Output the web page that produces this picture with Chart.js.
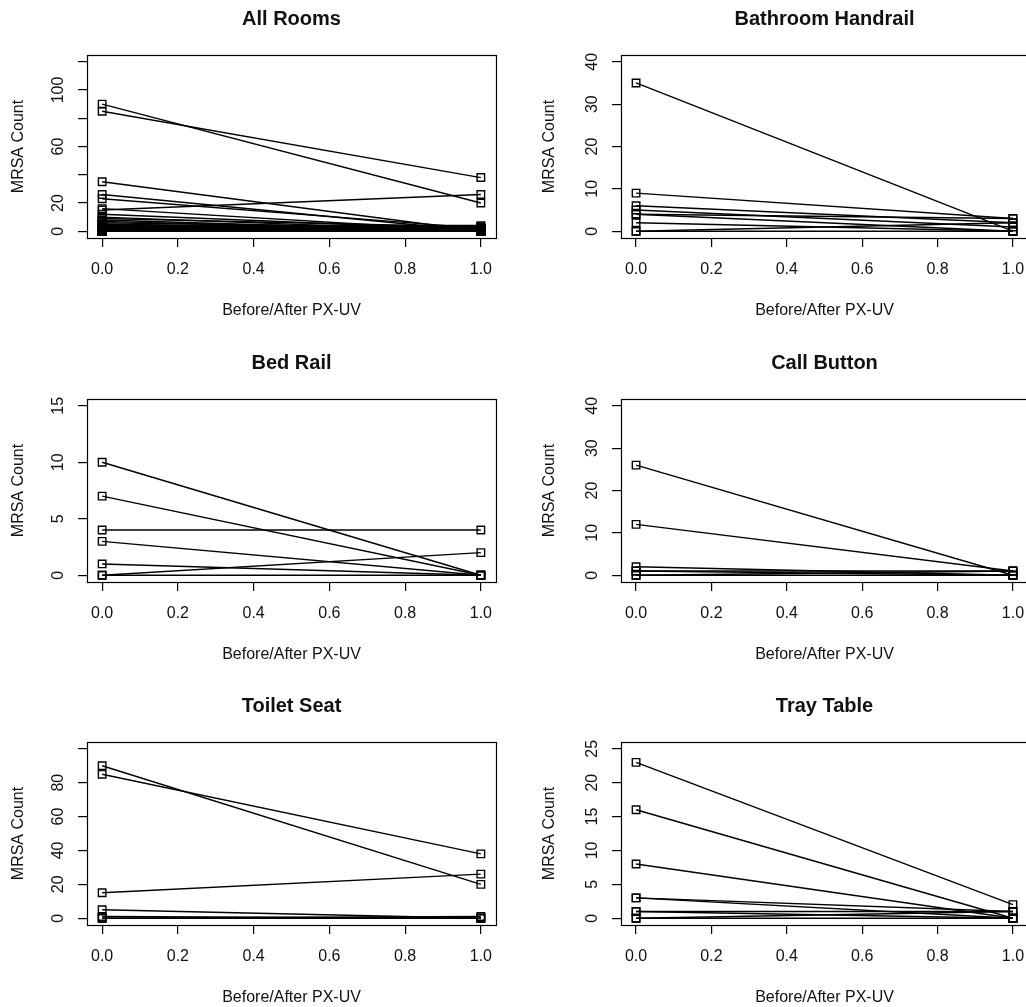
<!DOCTYPE html>
<html>
<head>
<meta charset="utf-8">
<title>MRSA Count Before/After PX-UV</title>
<script src="https://cdn.jsdelivr.net/npm/chart.js@4.4.0/dist/chart.umd.min.js"></script>
<style>
    html, body { margin: 0; padding: 0; background: #fff; }
    body { width: 1026px; height: 1007px; position: relative; overflow: hidden; }
    .panel { position: absolute; }
</style>
</head>
<body>
<div class="panel" style="left:0px;top:0px"><canvas id="c-all" width="513" height="330"></canvas></div>
<div class="panel" style="left:513px;top:0px"><canvas id="c-bath" width="530" height="330"></canvas></div>
<div class="panel" style="left:0px;top:344px"><canvas id="c-bed" width="513" height="330"></canvas></div>
<div class="panel" style="left:513px;top:344px"><canvas id="c-call" width="530" height="330"></canvas></div>
<div class="panel" style="left:0px;top:687px"><canvas id="c-toilet" width="513" height="330"></canvas></div>
<div class="panel" style="left:513px;top:687px"><canvas id="c-tray" width="530" height="330"></canvas></div>

<script>
// x positions: 0 = before PX-UV, 1 = after PX-UV
const xPositions = [0, 1];
const xTicks = [0, 0.2, 0.4, 0.6, 0.8, 1.0];
const xTickLabels = ['0.0', '0.2', '0.4', '0.6', '0.8', '1.0'];

// MRSA counts per room, before and after (same index = same room)
const bathBefore = [35, 9, 6, 5, 4, 4, 2, 0, 0];
const bathAfter = [0, 3, 2, 1, 0, 3, 0, 2, 0];

const bedBefore = [10, 7, 4, 3, 1, 0, 0];
const bedAfter = [0, 0, 4, 0, 0, 2, 0];

const callBefore = [26, 12, 2, 1, 1, 0, 0];
const callAfter = [0, 1, 0, 1, 0, 1, 0];

const toiletBefore = [90, 85, 15, 5, 1, 0, 0];
const toiletAfter = [20, 38, 26, 0, 0, 1, 0];

const trayBefore = [23, 16, 8, 3, 3, 1, 1, 0, 0];
const trayAfter = [2, 0, 0, 1, 0, 1, 0, 0, 1];

// y axis ticks and the labels R actually printed
const allTicks = [0, 20, 40, 60, 80, 100, 120];
const allLabels = [0, 20, 60, 100];
const bathTicks = [0, 10, 20, 30, 40];
const bedTicks = [0, 5, 10, 15];
const callTicks = [0, 10, 20, 30, 40];
const toiletTicks = [0, 20, 40, 60, 80, 100];
const toiletLabels = [0, 20, 40, 60, 80];
const trayTicks = [0, 5, 10, 15, 20, 25];

const FONT = 'Liberation Sans, Arial, Helvetica, sans-serif';
const INK = '#111';

const mrsaPlots = {
    init() {
        // All Rooms pools every surface
        const allBefore = [].concat(bathBefore, bedBefore, callBefore, toiletBefore, trayBefore);
        const allAfter = [].concat(bathAfter, bedAfter, callAfter, toiletAfter, trayAfter);

        this.draw('c-all', 'All Rooms', allBefore, allAfter, 120, allTicks, allLabels, 'left');
        this.draw('c-bath', 'Bathroom Handrail', bathBefore, bathAfter, 40, bathTicks, bathTicks, 'right');
        this.draw('c-bed', 'Bed Rail', bedBefore, bedAfter, 15, bedTicks, bedTicks, 'left');
        this.draw('c-call', 'Call Button', callBefore, callAfter, 40, callTicks, callTicks, 'right');
        this.draw('c-toilet', 'Toilet Seat', toiletBefore, toiletAfter, 100, toiletTicks, toiletLabels, 'left');
        this.draw('c-tray', 'Tray Table', trayBefore, trayAfter, 25, trayTicks, trayTicks, 'right');
    },

    draw(canvasId, title, before, after, yMax, yTicks, yLabels, column) {
        const isLeft = column === 'left';

        const datasets = before.map((b, i) => ({
            data: [{ x: xPositions[0], y: b }, { x: xPositions[1], y: after[i] }],
            borderColor: '#000',
            borderWidth: 1.4,
            tension: 0,
            pointStyle: 'rect',
            pointRadius: 5.3,
            pointBorderWidth: 1.4,
            pointBorderColor: '#000',
            pointBackgroundColor: 'rgba(0,0,0,0)'
        }));

        // Box round the plot area, main title over the box, rotated y tick labels (R style)
        const rFrame = {
            id: 'rFrame',
            afterDraw(chart) {
                const { ctx, chartArea } = chart;
                const yScale = chart.scales.y;
                ctx.save();
                ctx.strokeStyle = '#000';
                ctx.lineWidth = 1.2;
                ctx.strokeRect(Math.round(chartArea.left) + 0.5, Math.round(chartArea.top) + 0.5,
                    Math.round(chartArea.right - chartArea.left), Math.round(chartArea.bottom - chartArea.top));

                ctx.fillStyle = INK;
                ctx.textAlign = 'center';
                ctx.textBaseline = 'middle';
                ctx.font = 'bold 20px ' + FONT;
                ctx.fillText(title, (chartArea.left + chartArea.right) / 2, 19);

                ctx.font = '16px ' + FONT;
                yLabels.forEach(v => {
                    const py = yScale.getPixelForValue(v);
                    ctx.save();
                    ctx.translate(chartArea.left - 28, py);
                    ctx.rotate(-Math.PI / 2);
                    ctx.fillText(String(v), 0, 0);
                    ctx.restore();
                });
                ctx.restore();
            }
        };

        new Chart(document.getElementById(canvasId), {
            type: 'line',
            data: { datasets: datasets },
            options: {
                responsive: false,
                animation: false,
                events: [],
                layout: { padding: { left: 0, right: isLeft ? 17 : 15, top: 55, bottom: 0 } },
                plugins: {
                    legend: { display: false },
                    tooltip: { enabled: false },
                    title: { display: false }
                },
                scales: {
                    x: {
                        type: 'linear',
                        min: -0.04,
                        max: 1.04,
                        afterBuildTicks: s => { s.ticks = xTicks.map(v => ({ value: v })); },
                        afterFit: s => { s.height = 92; },
                        ticks: {
                            autoSkip: false,
                            maxRotation: 0,
                            padding: 13,
                            color: INK,
                            font: { family: FONT, size: 16 },
                            callback: (v, i) => xTickLabels[i]
                        },
                        grid: { drawOnChartArea: false, drawTicks: true, tickLength: 9, color: '#000', lineWidth: 1.2 },
                        border: { display: false },
                        title: {
                            display: true,
                            text: 'Before/After PX-UV',
                            color: INK,
                            font: { family: FONT, size: 16 },
                            padding: { top: 0, bottom: 10 }
                        }
                    },
                    y: {
                        type: 'linear',
                        min: -0.04 * yMax,
                        max: 1.04 * yMax,
                        afterBuildTicks: s => { s.ticks = yTicks.map(v => ({ value: v })); },
                        afterFit: s => { s.width = isLeft ? 87 : 108; },
                        ticks: { display: false },
                        grid: { drawOnChartArea: false, drawTicks: true, tickLength: 9, color: '#000', lineWidth: 1.2 },
                        border: { display: false },
                        title: {
                            display: true,
                            text: 'MRSA Count',
                            color: INK,
                            font: { family: FONT, size: 16 },
                            padding: { top: isLeft ? 9 : 27, bottom: 0 }
                        }
                    }
                }
            },
            plugins: [rFrame]
        });
    }
};

document.addEventListener('DOMContentLoaded', () => {
    mrsaPlots.init();
});
</script>
</body>
</html>
